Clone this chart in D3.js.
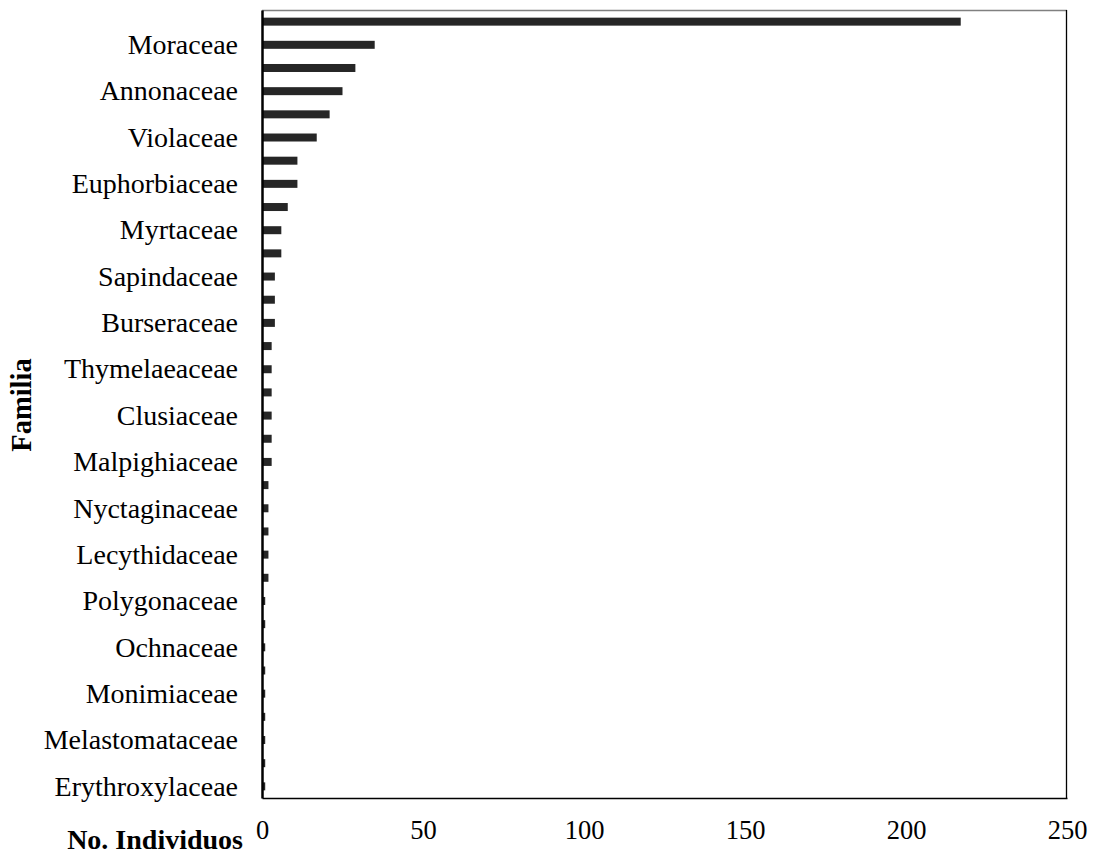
<!DOCTYPE html>
<html>
<head>
<meta charset="utf-8">
<script src="https://cdn.jsdelivr.net/npm/d3@7"></script>
<style>
  html, body { margin: 0; padding: 0; background: #fff; }
  svg text { font-family: "Liberation Serif", "Times New Roman", serif; fill: #000; }
</style>
</head>
<body>
<svg id="chart" width="1095" height="854"></svg>
<script>
// Categories from top to bottom; only every other one carries a visible label in the original
const categories = [
  "", "Moraceae", "", "Annonaceae", "", "Violaceae", "", "Euphorbiaceae", "",
  "Myrtaceae", "", "Sapindaceae", "", "Burseraceae", "", "Thymelaeaceae", "",
  "Clusiaceae", "", "Malpighiaceae", "", "Nyctaginaceae", "", "Lecythidaceae", "",
  "Polygonaceae", "", "Ochnaceae", "", "Monimiaceae", "", "Melastomataceae", "",
  "Erythroxylaceae"
];
const values = [
  217, 35, 29, 25, 21, 17, 11, 11, 8, 6, 6, 4, 4, 4, 3, 3, 3, 3, 3, 3,
  2, 2, 2, 2, 2, 1, 1, 1, 1, 1, 1, 1, 1, 1
];
const xTicks = [0, 50, 100, 150, 200, 250];
const xTitle = "No. Individuos";
const yTitle = "Familia";

const svg = d3.select("#chart");
const mLeft = 262, mRight = 1067, mTop = 10, mBottom = 798;

const idx = d3.range(categories.length);
const y = d3.scaleBand().domain(idx).range([mTop, mBottom]).paddingInner(0.655).paddingOuter(0.33);
const x = d3.scaleLinear().domain([0, 250]).range([mLeft, mRight]);

// plot frame
svg.append("line").attr("x1", mLeft).attr("x2", mRight).attr("y1", mTop + 0.5).attr("y2", mTop + 0.5)
  .attr("stroke", "#808080").attr("stroke-width", 1.5);
svg.append("line").attr("x1", mRight - 0.5).attr("x2", mRight - 0.5).attr("y1", mTop).attr("y2", mBottom)
  .attr("stroke", "#000").attr("stroke-width", 1.3);

// bars
svg.append("g").selectAll("rect").data(values).join("rect")
  .attr("x", x(0))
  .attr("y", (d, i) => y(i))
  .attr("width", d => x(d) - x(0))
  .attr("height", y.bandwidth())
  .attr("fill", "#262626");

// y axis
const yAxis = d3.axisLeft(y).tickSize(0).tickPadding(24).tickFormat(i => categories[i]);
const gy = svg.append("g").attr("transform", `translate(${mLeft},0)`).call(yAxis);
gy.select(".domain").attr("stroke", "#000").attr("stroke-width", 2.5);
gy.selectAll("text").attr("font-size", 28).style("font-family", '"Liberation Serif", serif').attr("dy", "0.33em");

// x axis
const xAxis = d3.axisBottom(x).tickValues(xTicks).tickSize(0).tickPadding(22).tickFormat(d3.format("d"));
const gx = svg.append("g").attr("transform", `translate(0,${mBottom})`).call(xAxis);
gx.select(".domain").attr("stroke", "#000").attr("stroke-width", 1.3);
gx.selectAll("text").attr("font-size", 26.5).style("font-family", '"Liberation Serif", serif');

// titles
svg.append("text").attr("x", 243).attr("y", 849).attr("text-anchor", "end")
  .attr("font-size", 28).attr("font-weight", "bold").text(xTitle);
svg.append("text").attr("transform", "translate(31,405) rotate(-90)").attr("text-anchor", "middle")
  .attr("font-size", 28.5).attr("font-weight", "bold").text(yTitle);
</script>
</body>
</html>
